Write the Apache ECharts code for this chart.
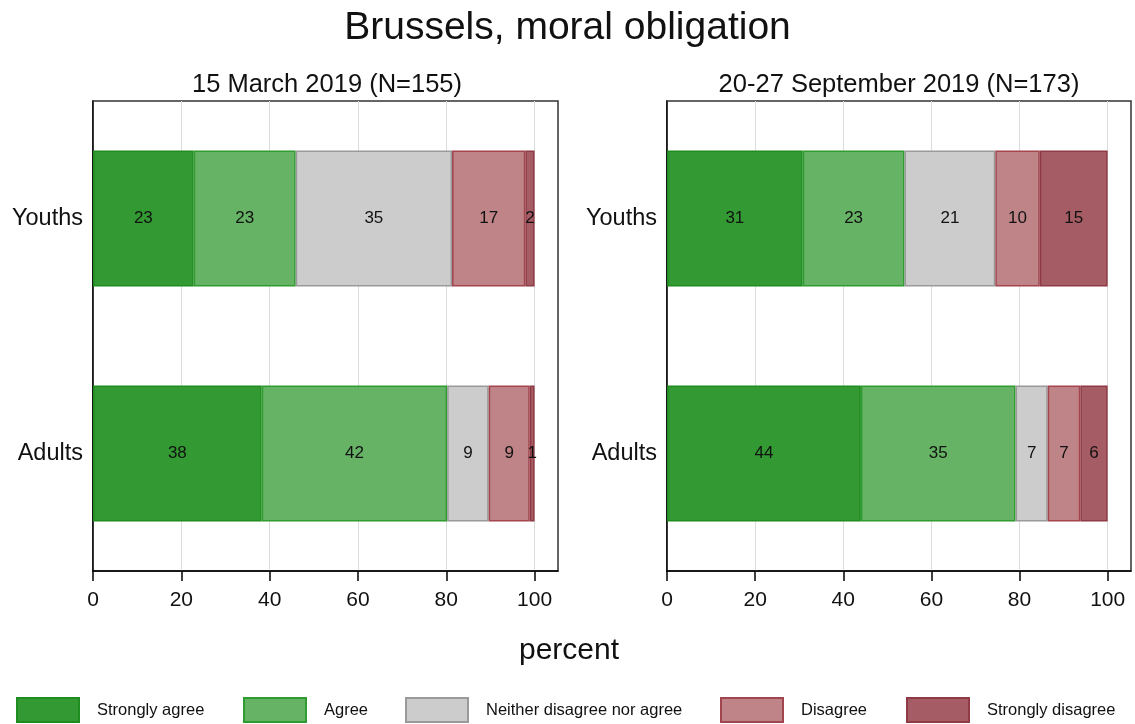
<!DOCTYPE html>
<html>
<head>
<meta charset="utf-8">
<script src="https://cdn.jsdelivr.net/npm/echarts@6/dist/echarts.min.js"></script>
<style>
html,body{margin:0;padding:0;background:#fff;}
#chart{width:1135px;height:724px;}
</style>
</head>
<body>
<div id="chart"></div>
<script>
// ---- data ----
const categories = ['Youths', 'Adults'];
const responses = ['Strongly agree', 'Agree', 'Neither disagree nor agree', 'Disagree', 'Strongly disagree'];
// percentages per response (order as in responses)
const marchYouths = [22.8, 23.1, 35.4, 16.6, 2.1];
const marchAdults = [38.2, 42.0, 9.4, 9.3, 1.1];
const septYouths = [30.8, 23.1, 20.6, 10.1, 15.4];
const septAdults = [44.0, 35.1, 7.3, 7.4, 6.2];
const xTicks = [0, 20, 40, 60, 80, 100];
const mainTitle = 'Brussels, moral obligation';
const panelTitles = ['15 March 2019 (N=155)', '20-27 September 2019 (N=173)'];
const xAxisTitle = 'percent';

// ---- styles ----
const fills = ['#339a33', '#66b366', '#cccccc', '#bf8488', '#a65c64'];
const borders = ['#1f8c1f', '#2e9c2e', '#9a9a9a', '#a3454f', '#8f3a44'];
const FONT = 'Liberation Sans, Arial, sans-serif';

const chart = echarts.init(document.getElementById('chart'), null, {renderer: 'canvas'});

function makeSeries(youths, adults, idx) {
  return responses.map((r, i) => ({
    name: r,
    type: 'bar',
    stack: 'p' + idx,
    xAxisIndex: idx,
    yAxisIndex: idx,
    barWidth: 136,
    data: [youths[i], adults[i]],
    itemStyle: {color: fills[i], borderColor: borders[i], borderWidth: 1.5},
    label: {
      show: true,
      position: 'inside',
      fontFamily: FONT,
      fontSize: 17,
      color: '#111',
      formatter: p => Math.round(p.value)
    },
    emphasis: {disabled: true},
    animation: false
  }));
}

function makeX(idx) {
  return {
    gridIndex: idx,
    type: 'value',
    min: 0,
    max: 105.3,
    interval: 20,
    axisLine: {show: true, lineStyle: {color: '#000', width: 1.5}},
    axisTick: {show: true, length: 10, customValues: xTicks, lineStyle: {color: '#000', width: 1.5}},
    axisLabel: {customValues: xTicks, fontFamily: FONT, fontSize: 21, color: '#111', margin: 19},
    splitLine: {show: true, lineStyle: {color: '#dcdcdc', width: 1}}
  };
}
function makeY(idx) {
  return {
    gridIndex: idx,
    type: 'category',
    data: categories,
    inverse: true,
    axisLine: {show: true, lineStyle: {color: '#000', width: 1.5}},
    axisTick: {show: false},
    axisLabel: {fontFamily: FONT, fontSize: 23.5, color: '#111', margin: 10},
    splitLine: {show: false}
  };
}

const legendLefts = [16, 243, 405, 720, 906];

const option = {
  backgroundColor: '#fff',
  animation: false,
  title: [
    {text: mainTitle, left: 'center', top: 9, padding: 0, textStyle: {fontFamily: FONT, fontSize: 39, fontWeight: 'normal', color: '#111'}},
    {text: panelTitles[0], left: 327, top: 72, padding: 0, textAlign: 'center', textStyle: {fontFamily: FONT, fontSize: 25.5, fontWeight: 'normal', color: '#111'}},
    {text: panelTitles[1], left: 899, top: 72, padding: 0, textAlign: 'center', textStyle: {fontFamily: FONT, fontSize: 25.5, fontWeight: 'normal', color: '#111'}},
    {text: xAxisTitle, left: 569, top: 636, padding: 0, textAlign: 'center', textStyle: {fontFamily: FONT, fontSize: 30, fontWeight: 'normal', color: '#111'}}
  ],
  legend: responses.map((r, i) => ({
    data: [r],
    left: legendLefts[i],
    top: 697,
    padding: 0,
    itemWidth: 62,
    itemHeight: 24,
    icon: 'rect',
    itemGap: 0,
    selectedMode: false,
    textStyle: {fontFamily: FONT, fontSize: 16.5, color: '#111', padding: [0, 0, 0, 13]}
  })),
  grid: [
    {left: 93, right: 1135 - 558, top: 101, bottom: 724 - 571, show: true, borderColor: '#333', borderWidth: 1.5, containLabel: false},
    {left: 667, right: 1135 - 1131, top: 101, bottom: 724 - 571, show: true, borderColor: '#333', borderWidth: 1.5, containLabel: false}
  ],
  xAxis: [makeX(0), makeX(1)],
  yAxis: [makeY(0), makeY(1)],
  series: [...makeSeries(marchYouths, marchAdults, 0), ...makeSeries(septYouths, septAdults, 1)]
};
chart.setOption(option);
</script>
</body>
</html>
